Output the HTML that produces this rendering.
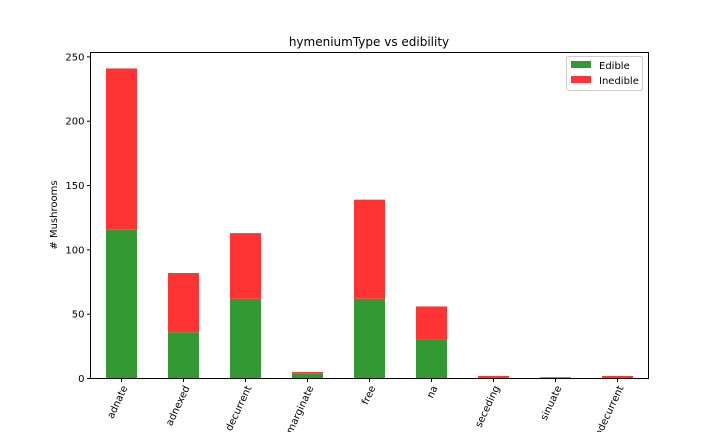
<!DOCTYPE html>
<html><head><meta charset="utf-8"><style>
body{margin:0;background:#fff;}
svg text{font-family:"DejaVu Sans","Liberation Sans",sans-serif;fill:#000;}
</style></head><body>
<svg id="chart" width="720" height="432" viewBox="0 0 720 432">
<text x="369" y="46" font-size="12" text-anchor="middle">hymeniumType vs edibility</text>
<text transform="translate(57,215) rotate(-90)" font-size="10" text-anchor="middle"># Mushrooms</text>
<g id="bars"></g>
<g id="yticks"></g>
<g id="xticks"></g>
<rect x="90.5" y="52.5" width="558" height="326" fill="none" stroke="#000" stroke-width="1"/>
<g>
<rect x="566.5" y="56.5" width="76" height="34" rx="2" fill="#fff" stroke="#ccc"/>
<g><rect x="571" y="61" width="20" height="7" fill="#339933"/><text x="599" y="69" font-size="10">Edible</text></g>
<g><rect x="571" y="76" width="20" height="7" fill="#ff3333"/><text x="599" y="84" font-size="10">Inedible</text></g>
</g>
</svg>
<script>
const categories=["adnate","adnexed","decurrent","marginate","free","na","seceding","sinuate","subdecurrent"];
const edible=[116,36,62,4,62,30,0,1,0];
const inedible=[125,46,51,1,77,26,2,0,2];
const yTicks=[0,50,100,150,200,250];
const NS="http://www.w3.org/2000/svg";
const x0=90.5,x1=648.5,yBase=378.5,yTop=52.5;
const yMax=253.4;
function y(v){return yBase-v*(yBase-yTop)/yMax;}
const step=(x1-x0)/categories.length;
function xc(i){return x0+step*(i+0.5);}
const bw=step*0.5;
function mk(tag,attrs,parent){const e=document.createElementNS(NS,tag);for(const k in attrs)e.setAttribute(k,attrs[k]);parent.appendChild(e);return e;}
const bars=document.getElementById('bars'),yt=document.getElementById('yticks'),xt=document.getElementById('xticks');
categories.forEach((c,i)=>{
  const a=mk('rect',{x:xc(i)-bw/2,y:y(edible[i]),width:bw,height:yBase-y(edible[i]),fill:'#339933'},bars);
  
  
  const b=mk('rect',{x:xc(i)-bw/2,y:y(edible[i]+inedible[i]),width:bw,height:y(edible[i])-y(edible[i]+inedible[i]),fill:'#ff3333'},bars);
  
  
  mk('line',{x1:xc(i),x2:xc(i),y1:yBase,y2:yBase+3.5,stroke:'#000'},xt);
  const t=mk('text',{transform:`translate(${xc(i)+4},${yBase+8}) rotate(-65)`,'font-size':10,'text-anchor':'end','dominant-baseline':'central'},xt);
  t.textContent=c;
  
  
});
yTicks.forEach(v=>{
  mk('line',{x1:x0-3.5,x2:x0,y1:y(v),y2:y(v),stroke:'#000'},yt);
  const t=mk('text',{x:x0-6,y:y(v)+3.5,'font-size':10,'text-anchor':'end'},yt);
  t.textContent=v;
  
  
});
</script>
</body></html>
